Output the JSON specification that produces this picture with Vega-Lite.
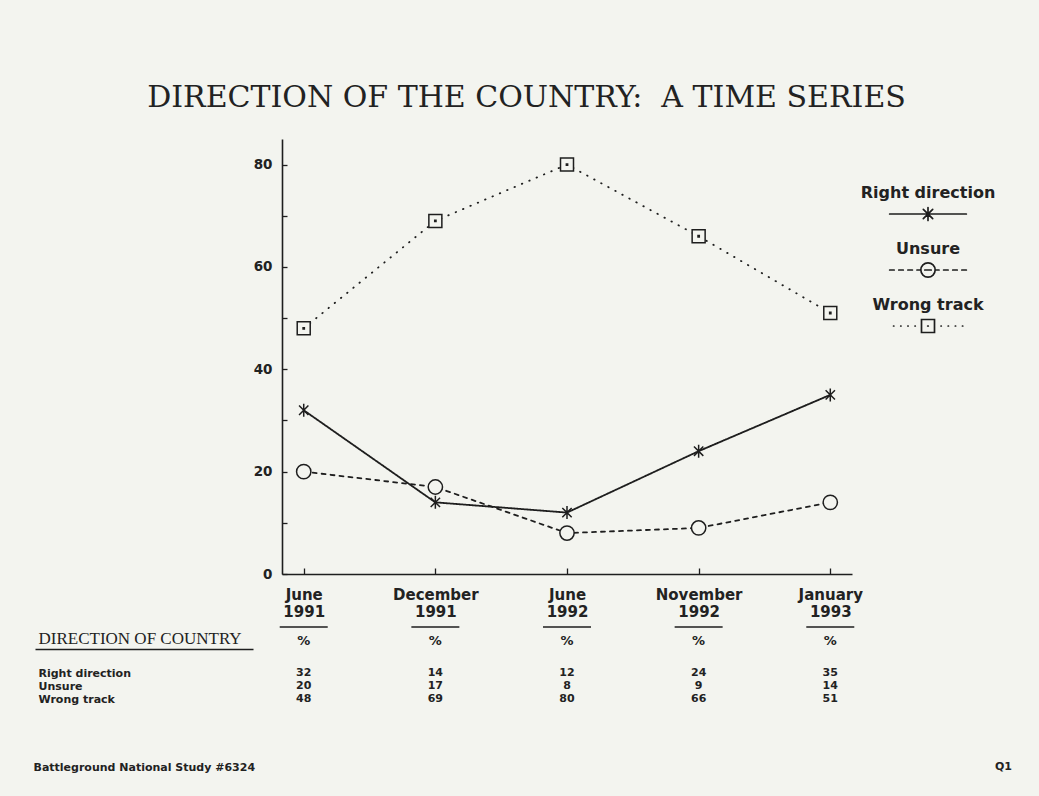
{
  "$schema": "https://vega.github.io/schema/vega-lite/v6.json",
  "background": "#f3f4ef",
  "padding": {"left": 33, "top": 83, "right": 28, "bottom": 28},
  "title": {"text": "DIRECTION OF THE COUNTRY:\u00a0 A TIME SERIES", "font": "DejaVu Serif", "fontSize": 30, "fontWeight": "normal", "color": "#222222", "anchor": "middle", "offset": 26, "dx": 4},
  "config": {"view": {"stroke": null}, "font": "DejaVu Sans"},
  "datasets": {
    "results": [
      {"period": "June 1991", "series": "Right direction", "pct": 32},
      {"period": "December 1991", "series": "Right direction", "pct": 14},
      {"period": "June 1992", "series": "Right direction", "pct": 12},
      {"period": "November 1992", "series": "Right direction", "pct": 24},
      {"period": "January 1993", "series": "Right direction", "pct": 35},
      {"period": "June 1991", "series": "Unsure", "pct": 20},
      {"period": "December 1991", "series": "Unsure", "pct": 17},
      {"period": "June 1992", "series": "Unsure", "pct": 8},
      {"period": "November 1992", "series": "Unsure", "pct": 9},
      {"period": "January 1993", "series": "Unsure", "pct": 14},
      {"period": "June 1991", "series": "Wrong track", "pct": 48},
      {"period": "December 1991", "series": "Wrong track", "pct": 69},
      {"period": "June 1992", "series": "Wrong track", "pct": 80},
      {"period": "November 1992", "series": "Wrong track", "pct": 66},
      {"period": "January 1993", "series": "Wrong track", "pct": 51}
    ],
    "header": [
      {"period": "June 1991", "head": "DIRECTION OF COUNTRY", "sign": "%"},
      {"period": "December 1991", "head": "DIRECTION OF COUNTRY", "sign": "%"},
      {"period": "June 1992", "head": "DIRECTION OF COUNTRY", "sign": "%"},
      {"period": "November 1992", "head": "DIRECTION OF COUNTRY", "sign": "%"},
      {"period": "January 1993", "head": "DIRECTION OF COUNTRY", "sign": "%"}
    ],
    "keys": [
      {"series": "Right direction"},
      {"series": "Unsure"},
      {"series": "Wrong track"}
    ],
    "footer": [
      {"note": "Battleground National Study #6324", "code": "Q1"}
    ]
  },
  "spacing": 7,
  "vconcat": [
    {
      "spacing": -3,
      "resolve": {"scale": {"shape": "independent"}},
      "hconcat": [
        {
          "width": 570,
          "height": 435,
          "data": {"name": "results"},
          "encoding": {
            "x": {
              "field": "period", "type": "ordinal",
              "scale": {"type": "point", "padding": 0.165, "domain": ["June 1991", "December 1991", "June 1992", "November 1992", "January 1993"]},
              "axis": {"title": null, "labelAngle": 0, "labelExpr": "split(datum.label, ' ')", "labelOverlap": false, "tickSize": -6, "labelPadding": 19, "labelLineHeight": 17, "labelFont": "DejaVu Sans", "labelFontWeight": "bold", "labelFontSize": 15, "labelColor": "#222222", "domainColor": "#1e1e1e", "domainWidth": 1.6, "tickColor": "#1e1e1e", "tickWidth": 1.3, "grid": false}
            },
            "y": {
              "field": "pct", "type": "quantitative",
              "scale": {"domain": [0, 85], "nice": false},
              "axis": {"title": null, "values": [0, 10, 20, 30, 40, 50, 60, 70, 80], "labelExpr": "datum.value % 20 === 0 ? datum.label : ''", "tickSize": -5, "labelPadding": 15, "labelFont": "DejaVu Sans", "labelFontWeight": "bold", "labelFontSize": 13.5, "labelColor": "#222222", "domainColor": "#1e1e1e", "domainWidth": 1.6, "tickColor": "#1e1e1e", "tickWidth": 1.3, "grid": false}
            }
          },
          "layer": [
            {
              "mark": {"type": "line", "color": "#1e1e1e", "strokeWidth": 1.8, "strokeCap": "round"},
              "encoding": {
                "strokeDash": {"field": "series", "type": "nominal", "scale": {"domain": ["Right direction", "Unsure", "Wrong track"], "range": [[1, 0], [4, 5], [0.5, 7.5]]}, "legend": null}
              }
            },
            {
              "mark": {"type": "point", "filled": true, "fill": "#f3f4ef", "stroke": "#1e1e1e", "strokeWidth": 1.5, "size": 169, "opacity": 1},
              "encoding": {
                "shape": {"field": "series", "type": "nominal", "scale": {"domain": ["Right direction", "Unsure", "Wrong track"], "range": ["M0,-1V1M-0.72,-0.72L0.72,0.72M-0.72,0.72L0.72,-0.72", "M-1.1,0A1.1,1.1,0,1,0,1.1,0A1.1,1.1,0,1,0,-1.1,0Z", "M-1,-1H1V1H-1ZM-0.1,-0.1H0.1V0.1H-0.1Z"]}, "legend": null}
              }
            }
          ]
        },
        {
          "width": 130,
          "height": 224,
          "data": {"name": "keys"},
          "encoding": {
            "y": {"field": "series", "type": "nominal", "scale": {"type": "point", "padding": 1, "domain": ["Right direction", "Unsure", "Wrong track"]}, "axis": null}
          },
          "layer": [
            {
              "mark": {"type": "text", "dy": -21, "yOffset": 19, "font": "DejaVu Sans", "fontWeight": "bold", "fontSize": 16, "color": "#222222"},
              "encoding": {"text": {"field": "series"}}
            },
            {
              "mark": {"type": "point", "yOffset": 19, "filled": true, "fill": "#f3f4ef", "stroke": "#1e1e1e", "strokeWidth": 1.7, "strokeCap": "round", "size": 169, "opacity": 1},
              "encoding": {
                "shape": {"field": "series", "type": "nominal", "scale": {"domain": ["Right direction", "Unsure", "Wrong track"], "range": ["M-5.9,0H5.9M0,-1V1M-0.72,-0.72L0.72,0.72M-0.72,0.72L0.72,-0.72", "M-5.9,0H-5.2M-4.5,0H-3.8M-3.1,0H-2.4M-1.7,0H-1.1M1.1,0H1.7M2.4,0H3.1M3.8,0H4.5M5.2,0H5.9M-1.1,0A1.1,1.1,0,1,0,1.1,0A1.1,1.1,0,1,0,-1.1,0M-0.5,0H0.5", "M-5.3,0h0.05M-4.2,0h0.05M-3.1,0h0.05M-2,0h0.05M2,0h0.05M3.1,0h0.05M4.2,0h0.05M5.3,0h0.05M-1,-1H1V1H-1ZM-0.05,0h0.1"]}, "legend": null}
              }
            }
          ]
        }
      ]
    },
    {
      "width": 570,
      "height": 65,
      "encoding": {
        "x": {"field": "period", "type": "ordinal", "scale": {"type": "point", "padding": 0.165, "domain": ["June 1991", "December 1991", "June 1992", "November 1992", "January 1993"]}, "axis": null}
      },
      "layer": [
        {
          "data": {"name": "results"},
          "mark": {"type": "text", "font": "DejaVu Sans", "fontWeight": "bold", "fontSize": 11, "color": "#222222"},
          "encoding": {
            "y": {
              "field": "series", "type": "nominal",
              "scale": {"type": "point", "padding": 0, "domain": ["DIRECTION OF COUNTRY", " ", "  ", "Right direction", "Unsure", "Wrong track"]},
              "axis": {
                "title": null, "domain": false, "offset": 29, "tickSize": 218, "tickWidth": 1.6,
                "tickColor": {"condition": {"test": "datum.value === 'DIRECTION OF COUNTRY'", "value": "#1e1e1e"}, "value": "transparent"},
                "tickOffset": 15,
                "labelOffset": {"condition": {"test": "datum.value === 'DIRECTION OF COUNTRY'", "value": -11}, "value": -15},
                "labelAlign": "left", "labelPadding": -3, "labelOverlap": false, "labelLimit": 400,
                "labelFont": {"condition": {"test": "datum.value === 'DIRECTION OF COUNTRY'", "value": "Liberation Serif"}, "value": "DejaVu Sans"},
                "labelFontWeight": {"condition": {"test": "datum.value === 'DIRECTION OF COUNTRY'", "value": "normal"}, "value": "bold"},
                "labelFontSize": {"condition": {"test": "datum.value === 'DIRECTION OF COUNTRY'", "value": 17}, "value": 11},
                "labelColor": "#222222"
              }
            },
            "text": {"field": "pct", "type": "quantitative"}
          }
        },
        {
          "data": {"name": "header"},
          "mark": {"type": "text", "yOffset": 7, "font": "DejaVu Sans", "fontWeight": "bold", "fontSize": 13, "color": "#222222"},
          "encoding": {
            "y": {"field": "head", "type": "nominal"},
            "text": {"field": "sign"}
          }
        },
        {
          "data": {"name": "header"},
          "mark": {"type": "tick", "orient": "horizontal", "size": 48, "thickness": 1.6, "yOffset": -7, "color": "#1e1e1e", "opacity": 1},
          "encoding": {
            "y": {"field": "head", "type": "nominal"}
          }
        }
      ]
    },
    {
      "width": 730,
      "height": 45,
      "data": {"name": "footer"},
      "mark": {"type": "text", "align": "right", "font": "DejaVu Sans", "fontWeight": "bold", "fontSize": 11, "color": "#222222"},
      "encoding": {
        "x": {"field": "code", "type": "nominal", "scale": {"type": "point", "padding": 0, "align": 1}, "axis": null},
        "y": {"field": "note", "type": "nominal", "scale": {"type": "point", "padding": 0, "align": 1}, "axis": {"title": null, "domain": false, "ticks": false, "labelAlign": "left", "labelPadding": 249, "labelLimit": 400, "labelFont": "DejaVu Sans", "labelFontWeight": "bold", "labelFontSize": 11, "labelColor": "#222222"}},
        "text": {"field": "code"}
      }
    }
  ]
}
